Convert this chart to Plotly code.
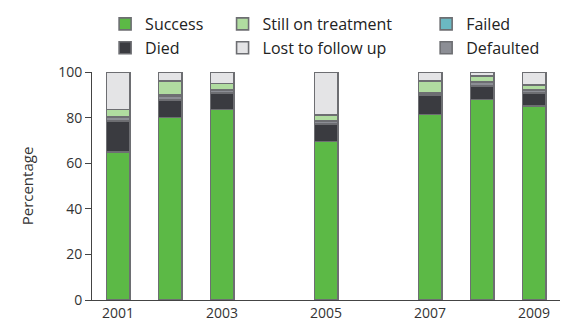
import plotly.graph_objects as go

years = [2001, 2002, 2003, 2005, 2007, 2008, 2009]
success = [65.0, 80.0, 83.6, 69.6, 81.4, 88.0, 85.1]
died = [13.5, 7.6, 7.3, 7.5, 8.4, 5.9, 5.8]
defaulted = [1.6, 1.9, 1.2, 1.4, 0.8, 1.5, 1.2]
failed = [0.3, 0.3, 0.3, 0.3, 0.3, 0.3, 0.3]
still_on_treatment = [3.2, 6.3, 2.6, 2.3, 5.2, 2.5, 1.8]
lost_to_follow_up = [16.4, 3.9, 5.0, 18.9, 3.9, 1.8, 5.8]
y_ticks = [0, 20, 40, 60, 80, 100]
x_ticks = [2001, 2003, 2005, 2007, 2009]

FONT = "Open Sans"
OUTLINE = "#6d6e72"

# stacking order (bottom to top), legend name, colour, legend id, rank
series = [
    ("Success", success, "#5cb946", "legend", 1),
    ("Died", died, "#3a3b40", "legend", 2),
    ("Defaulted", defaulted, "#8c8e95", "legend3", 6),
    ("Failed", failed, "#6bb8c2", "legend3", 5),
    ("Still on treatment", still_on_treatment, "#b0dca0", "legend2", 3),
    ("Lost to follow up", lost_to_follow_up, "#e4e4e6", "legend2", 4),
]

fig = go.Figure()
for name, vals, color, leg, rank in series:
    fig.add_trace(go.Bar(
        x=years, y=vals, name=name, width=0.45,
        marker=dict(color=color, line=dict(color=OUTLINE, width=1.6)),
        legend=leg, legendrank=rank,
    ))

leg_common = dict(
    orientation="v", yanchor="top", y=1.285, xanchor="left",
    font=dict(family=FONT, size=16, color="#222"),
    bgcolor="rgba(0,0,0,0)", tracegroupgap=0, traceorder="normal",
)
fig.update_layout(
    barmode="stack",
    width=569, height=325,
    margin=dict(l=92, r=9, t=72, b=25, autoexpand=False),
    plot_bgcolor="white", paper_bgcolor="white",
    font=dict(family=FONT, size=14, color="#333"),
    legend=dict(x=0.028, **leg_common),
    legend2=dict(x=0.279, **leg_common),
    legend3=dict(x=0.714, **leg_common),
    xaxis=dict(
        range=[2000.5, 2009.5], tickvals=x_ticks, ticktext=[str(v) for v in x_ticks],
        showline=True, linecolor="#444", linewidth=1, ticks="",
        showgrid=False, zeroline=False,
        tickfont=dict(family=FONT, size=14, color="#333"),
    ),
    yaxis=dict(
        range=[0, 100], tickvals=y_ticks,
        showline=True, linecolor="#444", linewidth=1,
        ticks="outside", ticklen=6, tickcolor="#444",
        showgrid=False, zeroline=False,
        title=dict(text="Percentage", font=dict(family=FONT, size=15, color="#333"), standoff=20),
        tickfont=dict(family=FONT, size=14, color="#333"),
    ),
)

fig.write_html("out.html", config={"displayModeBar": False},
               post_script="document.body.style.margin='0';")
